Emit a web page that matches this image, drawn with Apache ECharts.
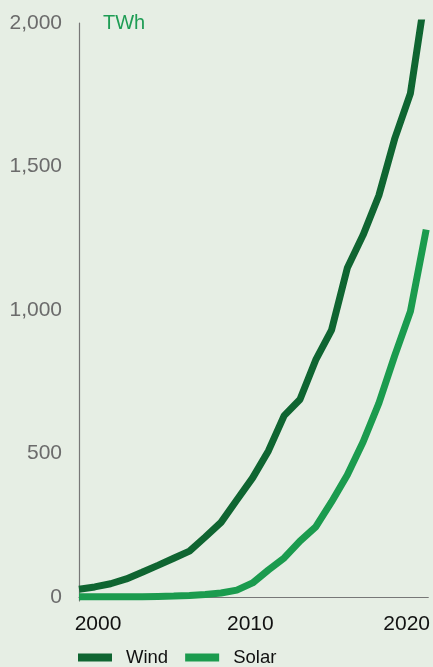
<!DOCTYPE html>
<html>
<head>
<meta charset="utf-8">
<script src="https://cdn.jsdelivr.net/npm/echarts@6/dist/echarts.min.js"></script>
<style>
html,body{margin:0;padding:0;background:#e6eee4;}
#chart{width:433px;height:667px;}
</style>
</head>
<body>
<div id="chart"></div>
<script>
const years = [2000,2001,2002,2003,2004,2005,2006,2007,2008,2009,2010,2011,2012,2013,2014,2015,2016,2017,2018,2019,2020,2021,2022];
const wind  = [27,35,46,63,86,110,135,160,209,260,338,415,509,632,688,826,930,1146,1261,1399,1596,1755,2120];
const solar = [1,1,1,1,1,2,3,5,9,14,24,49,94,136,195,244,331,425,540,675,840,995,1280];
const yTicks = [0,500,1000,1500,2000];
const xTicks = [2000,2010,2020];
const unitLabel = 'TWh';
const seriesNames = ['Wind','Solar'];

const FONT = '"Liberation Sans", Arial, Helvetica, sans-serif';
const chart = echarts.init(document.getElementById('chart'), null, {renderer:'canvas'});
const pairs = arr => years.map((y,i)=>[y,arr[i]]);

chart.setOption({
  animation:false,
  backgroundColor:'#e6eee4',
  title:{text:unitLabel,left:98,top:8,textStyle:{fontFamily:FONT,fontSize:20,fontWeight:'normal',color:'#1f9d55'}},
  legend:{
    left:78, top:648, padding:0, icon:'rect', itemWidth:34, itemHeight:8, itemGap:17,
    textStyle:{fontFamily:FONT,fontSize:18.5,color:'#111',padding:[0,0,0,9]},
    data:seriesNames
  },
  grid:{left:79,right:3,top:23,bottom:66,containLabel:false},
  xAxis:{
    type:'value', min:2000, max:2022.13,
    axisLine:{show:true,lineStyle:{color:'#777',width:1.2}},
    axisTick:{show:false}, splitLine:{show:false},
    axisLabel:{
      customValues:xTicks, margin:13,
      fontFamily:FONT, fontSize:21, color:'#111',
      formatter:v=>{
        const k = v===2000?'a':(v===2010?'b':'c');
        return '{'+k+'|'+v+'}';
      },
      rich:{
        a:{fontFamily:FONT,fontSize:21,color:'#111',padding:[0,0,0,38]},
        b:{fontFamily:FONT,fontSize:21,color:'#111',padding:[0,0,0,27]},
        c:{fontFamily:FONT,fontSize:21,color:'#111',padding:[0,0,0,24]}
      }
    }
  },
  yAxis:{
    type:'value', min:-14, max:2000,
    axisLine:{show:true,lineStyle:{color:'#777',width:1.2}},
    axisTick:{show:false}, splitLine:{show:false},
    axisLabel:{
      customValues:yTicks, margin:17,
      fontFamily:FONT, fontSize:21, color:'#6b6b6b',
      formatter:v=>v.toLocaleString('en-US')
    }
  },
  series:[
    {name:seriesNames[0],type:'line',data:pairs(wind),symbol:'none',clip:true,
     lineStyle:{color:'#0f6531',width:7},itemStyle:{color:'#0f6531'}},
    {name:seriesNames[1],type:'line',data:pairs(solar),symbol:'none',clip:true,
     lineStyle:{color:'#1b9b4e',width:7},itemStyle:{color:'#1b9b4e'}}
  ]
});
</script>
</body>
</html>
